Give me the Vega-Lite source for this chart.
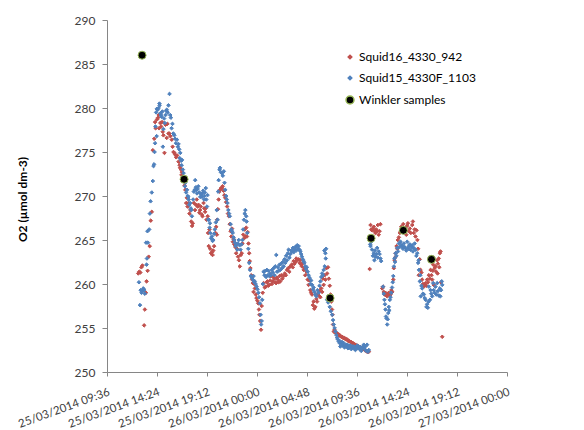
{
"$schema":"https://vega.github.io/schema/vega-lite/v6.json",
"width":400,"height":352,
"autosize":{"type":"none"},
"padding":{"left":107,"top":20,"right":77,"bottom":58},
"background":"white",
"config":{"view":{"stroke":null},"font":"Lato"},
"data":{"format":{"parse":{"t":"date:'%Y-%m-%d %H:%M'"}},"values":[
{"s":"R","t":"2014-03-25 12:36","v":261.2},{"s":"R","t":"2014-03-25 12:42","v":261.4},{"s":"R","t":"2014-03-25 12:48","v":261.3},{"s":"R","t":"2014-03-25 12:54","v":261.9},{"s":"R","t":"2014-03-25 13:00","v":262.1},{"s":"R","t":"2014-03-25 13:10","v":255.3},{"s":"R","t":"2014-03-25 13:14","v":257.1},{"s":"R","t":"2014-03-25 13:20","v":259.0},{"s":"R","t":"2014-03-25 13:24","v":260.3},{"s":"R","t":"2014-03-25 13:30","v":261.5},{"s":"R","t":"2014-03-25 13:36","v":263.1},{"s":"R","t":"2014-03-25 13:42","v":264.3},{"s":"R","t":"2014-03-25 13:48","v":267.2},{"s":"R","t":"2014-03-25 13:54","v":268.2},{"s":"R","t":"2014-03-25 14:00","v":275.2},{"s":"R","t":"2014-03-25 14:08","v":276.5},{"s":"R","t":"2014-03-25 14:13","v":278.4},{"s":"R","t":"2014-03-25 14:16","v":277.7},{"s":"R","t":"2014-03-25 14:24","v":278.7},{"s":"R","t":"2014-03-25 14:30","v":278.9},{"s":"R","t":"2014-03-25 14:34","v":279.2},{"s":"R","t":"2014-03-25 14:36","v":277.7},{"s":"R","t":"2014-03-25 14:43","v":278.3},{"s":"R","t":"2014-03-25 14:48","v":277.9},{"s":"R","t":"2014-03-25 14:53","v":278.4},{"s":"R","t":"2014-03-25 14:57","v":277.3},{"s":"R","t":"2014-03-25 15:01","v":276.9},{"s":"R","t":"2014-03-25 15:07","v":274.9},{"s":"R","t":"2014-03-25 15:13","v":278.1},{"s":"R","t":"2014-03-25 15:20","v":276.6},{"s":"R","t":"2014-03-25 15:24","v":278.2},{"s":"R","t":"2014-03-25 15:30","v":277.1},{"s":"R","t":"2014-03-25 15:35","v":277.1},{"s":"R","t":"2014-03-25 15:41","v":276.8},{"s":"R","t":"2014-03-25 15:49","v":276.4},{"s":"R","t":"2014-03-25 15:54","v":275.6},{"s":"R","t":"2014-03-25 15:59","v":275.0},{"s":"R","t":"2014-03-25 16:04","v":274.9},{"s":"R","t":"2014-03-25 16:09","v":274.7},{"s":"R","t":"2014-03-25 16:14","v":274.4},{"s":"R","t":"2014-03-25 16:20","v":274.6},{"s":"R","t":"2014-03-25 16:28","v":273.9},{"s":"R","t":"2014-03-25 16:34","v":273.5},{"s":"R","t":"2014-03-25 16:37","v":273.2},{"s":"R","t":"2014-03-25 16:42","v":273.0},{"s":"R","t":"2014-03-25 16:45","v":272.4},{"s":"R","t":"2014-03-25 16:48","v":272.7},{"s":"R","t":"2014-03-25 16:55","v":271.8},{"s":"R","t":"2014-03-25 17:03","v":271.2},{"s":"R","t":"2014-03-25 17:07","v":270.7},{"s":"R","t":"2014-03-25 17:12","v":269.2},{"s":"R","t":"2014-03-25 17:16","v":269.8},{"s":"R","t":"2014-03-25 17:20","v":268.8},{"s":"R","t":"2014-03-25 17:25","v":269.2},{"s":"R","t":"2014-03-25 17:31","v":268.0},{"s":"R","t":"2014-03-25 17:36","v":268.4},{"s":"R","t":"2014-03-25 17:41","v":267.1},{"s":"R","t":"2014-03-25 17:46","v":266.6},{"s":"R","t":"2014-03-25 17:50","v":266.9},{"s":"R","t":"2014-03-25 17:57","v":269.2},{"s":"R","t":"2014-03-25 18:03","v":268.4},{"s":"R","t":"2014-03-25 18:08","v":269.0},{"s":"R","t":"2014-03-25 18:13","v":269.6},{"s":"R","t":"2014-03-25 18:18","v":268.8},{"s":"R","t":"2014-03-25 18:23","v":269.0},{"s":"R","t":"2014-03-25 18:28","v":268.1},{"s":"R","t":"2014-03-25 18:32","v":268.4},{"s":"R","t":"2014-03-25 18:36","v":268.8},{"s":"R","t":"2014-03-25 18:42","v":267.9},{"s":"R","t":"2014-03-25 18:46","v":267.7},{"s":"R","t":"2014-03-25 18:52","v":269.2},{"s":"R","t":"2014-03-25 18:56","v":268.6},{"s":"R","t":"2014-03-25 19:01","v":268.2},{"s":"R","t":"2014-03-25 19:05","v":268.6},{"s":"R","t":"2014-03-25 19:09","v":267.3},{"s":"R","t":"2014-03-25 19:16","v":267.7},{"s":"R","t":"2014-03-25 19:18","v":265.8},{"s":"R","t":"2014-03-25 19:22","v":264.3},{"s":"R","t":"2014-03-25 19:26","v":266.2},{"s":"R","t":"2014-03-25 19:30","v":264.0},{"s":"R","t":"2014-03-25 19:35","v":263.5},{"s":"R","t":"2014-03-25 19:40","v":263.6},{"s":"R","t":"2014-03-25 19:44","v":263.3},{"s":"R","t":"2014-03-25 19:48","v":263.8},{"s":"R","t":"2014-03-25 19:53","v":264.3},{"s":"R","t":"2014-03-25 20:01","v":265.8},{"s":"R","t":"2014-03-25 20:05","v":266.5},{"s":"R","t":"2014-03-25 20:09","v":265.6},{"s":"R","t":"2014-03-25 20:10","v":267.3},{"s":"R","t":"2014-03-25 20:15","v":268.5},{"s":"R","t":"2014-03-25 20:19","v":269.6},{"s":"R","t":"2014-03-25 20:23","v":270.5},{"s":"R","t":"2014-03-25 20:27","v":270.7},{"s":"R","t":"2014-03-25 20:33","v":270.9},{"s":"R","t":"2014-03-25 20:38","v":270.9},{"s":"R","t":"2014-03-25 20:42","v":271.1},{"s":"R","t":"2014-03-25 20:47","v":270.6},{"s":"R","t":"2014-03-25 20:52","v":270.1},{"s":"R","t":"2014-03-25 20:57","v":269.8},{"s":"R","t":"2014-03-25 21:02","v":269.3},{"s":"R","t":"2014-03-25 21:08","v":268.8},{"s":"R","t":"2014-03-25 21:13","v":268.0},{"s":"R","t":"2014-03-25 21:18","v":267.7},{"s":"R","t":"2014-03-25 21:23","v":266.8},{"s":"R","t":"2014-03-25 21:28","v":266.0},{"s":"R","t":"2014-03-25 21:32","v":265.4},{"s":"R","t":"2014-03-25 21:36","v":266.3},{"s":"R","t":"2014-03-25 21:41","v":264.8},{"s":"R","t":"2014-03-25 21:45","v":265.1},{"s":"R","t":"2014-03-25 21:49","v":264.5},{"s":"R","t":"2014-03-25 21:55","v":264.2},{"s":"R","t":"2014-03-25 22:00","v":263.5},{"s":"R","t":"2014-03-25 22:05","v":264.0},{"s":"R","t":"2014-03-25 22:11","v":263.1},{"s":"R","t":"2014-03-25 22:16","v":262.7},{"s":"R","t":"2014-03-25 22:21","v":262.0},{"s":"R","t":"2014-03-25 22:27","v":263.3},{"s":"R","t":"2014-03-25 22:32","v":263.5},{"s":"R","t":"2014-03-25 22:36","v":264.6},{"s":"R","t":"2014-03-25 22:41","v":265.6},{"s":"R","t":"2014-03-25 22:46","v":265.2},{"s":"R","t":"2014-03-25 22:49","v":266.2},{"s":"R","t":"2014-03-25 22:54","v":265.4},{"s":"R","t":"2014-03-25 22:58","v":266.4},{"s":"R","t":"2014-03-25 23:02","v":265.4},{"s":"R","t":"2014-03-25 23:06","v":265.9},{"s":"R","t":"2014-03-25 23:11","v":264.6},{"s":"R","t":"2014-03-25 23:15","v":263.5},{"s":"R","t":"2014-03-25 23:18","v":262.6},{"s":"R","t":"2014-03-25 23:22","v":261.8},{"s":"R","t":"2014-03-25 23:27","v":261.0},{"s":"R","t":"2014-03-25 23:32","v":260.5},{"s":"R","t":"2014-03-25 23:36","v":260.1},{"s":"R","t":"2014-03-25 23:40","v":259.1},{"s":"R","t":"2014-03-25 23:44","v":260.0},{"s":"R","t":"2014-03-25 23:48","v":259.5},{"s":"R","t":"2014-03-25 23:53","v":258.8},{"s":"R","t":"2014-03-25 23:57","v":258.4},
{"s":"R","t":"2014-03-26 00:02","v":258.1},{"s":"R","t":"2014-03-26 00:07","v":257.8},{"s":"R","t":"2014-03-26 00:11","v":257.1},{"s":"R","t":"2014-03-26 00:14","v":256.5},{"s":"R","t":"2014-03-26 00:18","v":255.8},{"s":"R","t":"2014-03-26 00:23","v":254.8},{"s":"R","t":"2014-03-26 00:27","v":257.5},{"s":"R","t":"2014-03-26 00:33","v":259.0},{"s":"R","t":"2014-03-26 00:38","v":260.1},{"s":"R","t":"2014-03-26 00:45","v":259.6},{"s":"R","t":"2014-03-26 00:50","v":259.7},{"s":"R","t":"2014-03-26 00:57","v":260.2},{"s":"R","t":"2014-03-26 01:00","v":260.3},{"s":"R","t":"2014-03-26 01:05","v":259.8},{"s":"R","t":"2014-03-26 01:10","v":259.9},{"s":"R","t":"2014-03-26 01:16","v":260.4},{"s":"R","t":"2014-03-26 01:20","v":260.9},{"s":"R","t":"2014-03-26 01:26","v":260.0},{"s":"R","t":"2014-03-26 01:30","v":260.3},{"s":"R","t":"2014-03-26 01:35","v":260.8},{"s":"R","t":"2014-03-26 01:40","v":260.6},{"s":"R","t":"2014-03-26 01:45","v":260.2},{"s":"R","t":"2014-03-26 01:50","v":260.1},{"s":"R","t":"2014-03-26 01:55","v":260.7},{"s":"R","t":"2014-03-26 02:00","v":260.5},{"s":"R","t":"2014-03-26 02:05","v":260.2},{"s":"R","t":"2014-03-26 02:10","v":260.9},{"s":"R","t":"2014-03-26 02:14","v":260.3},{"s":"R","t":"2014-03-26 02:20","v":261.0},{"s":"R","t":"2014-03-26 02:26","v":260.6},{"s":"R","t":"2014-03-26 02:33","v":260.9},{"s":"R","t":"2014-03-26 02:40","v":261.2},{"s":"R","t":"2014-03-26 02:46","v":261.0},{"s":"R","t":"2014-03-26 02:53","v":261.6},{"s":"R","t":"2014-03-26 03:00","v":261.8},{"s":"R","t":"2014-03-26 03:06","v":261.4},{"s":"R","t":"2014-03-26 03:12","v":262.0},{"s":"R","t":"2014-03-26 03:20","v":262.2},{"s":"R","t":"2014-03-26 03:26","v":261.9},{"s":"R","t":"2014-03-26 03:31","v":262.6},{"s":"R","t":"2014-03-26 03:36","v":262.3},{"s":"R","t":"2014-03-26 03:40","v":262.5},{"s":"R","t":"2014-03-26 03:46","v":262.9},{"s":"R","t":"2014-03-26 03:51","v":262.7},{"s":"R","t":"2014-03-26 04:00","v":262.8},{"s":"R","t":"2014-03-26 04:05","v":262.4},{"s":"R","t":"2014-03-26 04:10","v":262.7},{"s":"R","t":"2014-03-26 04:15","v":262.2},{"s":"R","t":"2014-03-26 04:19","v":262.0},{"s":"R","t":"2014-03-26 04:25","v":262.4},{"s":"R","t":"2014-03-26 04:29","v":261.6},{"s":"R","t":"2014-03-26 04:33","v":261.8},{"s":"R","t":"2014-03-26 04:38","v":261.0},{"s":"R","t":"2014-03-26 04:45","v":261.4},{"s":"R","t":"2014-03-26 04:52","v":260.5},{"s":"R","t":"2014-03-26 04:57","v":259.9},{"s":"R","t":"2014-03-26 05:02","v":260.4},{"s":"R","t":"2014-03-26 05:07","v":259.3},{"s":"R","t":"2014-03-26 05:12","v":259.0},{"s":"R","t":"2014-03-26 05:17","v":258.8},{"s":"R","t":"2014-03-26 05:22","v":257.6},{"s":"R","t":"2014-03-26 05:26","v":258.0},{"s":"R","t":"2014-03-26 05:30","v":257.2},{"s":"R","t":"2014-03-26 05:36","v":257.4},{"s":"R","t":"2014-03-26 05:42","v":258.3},{"s":"R","t":"2014-03-26 05:46","v":258.0},{"s":"R","t":"2014-03-26 05:50","v":258.9},{"s":"R","t":"2014-03-26 05:55","v":258.7},{"s":"R","t":"2014-03-26 06:00","v":259.2},{"s":"R","t":"2014-03-26 06:05","v":258.5},{"s":"R","t":"2014-03-26 06:10","v":259.5},{"s":"R","t":"2014-03-26 06:15","v":259.1},{"s":"R","t":"2014-03-26 06:20","v":260.6},{"s":"R","t":"2014-03-26 06:24","v":259.9},{"s":"R","t":"2014-03-26 06:30","v":261.0},{"s":"R","t":"2014-03-26 06:34","v":260.5},{"s":"R","t":"2014-03-26 06:40","v":261.8},{"s":"R","t":"2014-03-26 06:44","v":261.2},{"s":"R","t":"2014-03-26 06:49","v":261.9},{"s":"R","t":"2014-03-26 06:54","v":260.6},{"s":"R","t":"2014-03-26 06:59","v":259.8},{"s":"R","t":"2014-03-26 07:04","v":258.8},{"s":"R","t":"2014-03-26 07:08","v":258.0},{"s":"R","t":"2014-03-26 07:12","v":257.1},{"s":"R","t":"2014-03-26 07:15","v":256.5},{"s":"R","t":"2014-03-26 07:18","v":255.4},{"s":"R","t":"2014-03-26 07:22","v":254.6},{"s":"R","t":"2014-03-26 07:27","v":254.8},{"s":"R","t":"2014-03-26 07:32","v":254.5},{"s":"R","t":"2014-03-26 07:37","v":254.4},{"s":"R","t":"2014-03-26 07:41","v":254.4},{"s":"R","t":"2014-03-26 07:46","v":254.3},{"s":"R","t":"2014-03-26 07:50","v":254.2},{"s":"R","t":"2014-03-26 07:55","v":254.2},{"s":"R","t":"2014-03-26 08:00","v":254.1},{"s":"R","t":"2014-03-26 08:05","v":254.0},{"s":"R","t":"2014-03-26 08:10","v":254.0},{"s":"R","t":"2014-03-26 08:14","v":253.9},{"s":"R","t":"2014-03-26 08:19","v":253.9},{"s":"R","t":"2014-03-26 08:24","v":253.8},{"s":"R","t":"2014-03-26 08:29","v":253.8},{"s":"R","t":"2014-03-26 08:34","v":253.7},{"s":"R","t":"2014-03-26 08:39","v":253.7},{"s":"R","t":"2014-03-26 08:44","v":253.6},{"s":"R","t":"2014-03-26 08:48","v":253.5},{"s":"R","t":"2014-03-26 08:53","v":253.5},{"s":"R","t":"2014-03-26 08:58","v":253.4},{"s":"R","t":"2014-03-26 09:03","v":253.4},{"s":"R","t":"2014-03-26 09:07","v":253.3},{"s":"R","t":"2014-03-26 09:12","v":253.3},{"s":"R","t":"2014-03-26 09:17","v":253.2},{"s":"R","t":"2014-03-26 09:22","v":253.1},{"s":"R","t":"2014-03-26 09:27","v":253.1},{"s":"R","t":"2014-03-26 09:32","v":253.0},{"s":"R","t":"2014-03-26 09:37","v":253.0},{"s":"R","t":"2014-03-26 09:41","v":252.9},{"s":"R","t":"2014-03-26 09:46","v":252.9},{"s":"R","t":"2014-03-26 09:51","v":252.8},{"s":"R","t":"2014-03-26 09:56","v":252.8},{"s":"R","t":"2014-03-26 10:00","v":252.7},{"s":"R","t":"2014-03-26 10:05","v":252.7},{"s":"R","t":"2014-03-26 10:10","v":252.6},{"s":"R","t":"2014-03-26 10:15","v":252.6},{"s":"R","t":"2014-03-26 10:20","v":252.5},{"s":"R","t":"2014-03-26 10:24","v":252.5},{"s":"R","t":"2014-03-26 10:29","v":252.4},{"s":"R","t":"2014-03-26 10:34","v":252.3},{"s":"R","t":"2014-03-26 10:39","v":252.3},{"s":"R","t":"2014-03-26 10:44","v":252.3},{"s":"R","t":"2014-03-26 10:49","v":261.7},{"s":"R","t":"2014-03-26 10:54","v":266.7},{"s":"R","t":"2014-03-26 10:58","v":266.2},{"s":"R","t":"2014-03-26 11:03","v":266.1},{"s":"R","t":"2014-03-26 11:08","v":266.3},{"s":"R","t":"2014-03-26 11:13","v":266.5},{"s":"R","t":"2014-03-26 11:18","v":266.0},{"s":"R","t":"2014-03-26 11:22","v":265.8},{"s":"R","t":"2014-03-26 11:27","v":266.2},{"s":"R","t":"2014-03-26 11:32","v":266.0},{"s":"R","t":"2014-03-26 11:36","v":266.7},{"s":"R","t":"2014-03-26 11:41","v":265.6},{"s":"R","t":"2014-03-26 11:46","v":266.0},{"s":"R","t":"2014-03-26 11:51","v":266.8},{"s":"R","t":"2014-03-26 12:01","v":259.5},{"s":"R","t":"2014-03-26 12:06","v":259.7},{"s":"R","t":"2014-03-26 12:10","v":259.1},{"s":"R","t":"2014-03-26 12:15","v":258.8},{"s":"R","t":"2014-03-26 12:20","v":259.0},{"s":"R","t":"2014-03-26 12:25","v":258.7},{"s":"R","t":"2014-03-26 12:30","v":258.6},{"s":"R","t":"2014-03-26 12:35","v":258.9},{"s":"R","t":"2014-03-26 12:39","v":259.0},{"s":"R","t":"2014-03-26 12:44","v":258.7},{"s":"R","t":"2014-03-26 12:49","v":258.8},{"s":"R","t":"2014-03-26 12:54","v":259.3},{"s":"R","t":"2014-03-26 12:59","v":259.1},{"s":"R","t":"2014-03-26 13:05","v":260.5},{"s":"R","t":"2014-03-26 13:08","v":261.8},{"s":"R","t":"2014-03-26 13:12","v":262.7},{"s":"R","t":"2014-03-26 13:15","v":263.0},{"s":"R","t":"2014-03-26 13:18","v":263.5},{"s":"R","t":"2014-03-26 13:24","v":264.3},{"s":"R","t":"2014-03-26 13:28","v":264.0},{"s":"R","t":"2014-03-26 13:31","v":265.0},{"s":"R","t":"2014-03-26 13:37","v":265.3},{"s":"R","t":"2014-03-26 13:43","v":265.8},{"s":"R","t":"2014-03-26 13:47","v":266.0},{"s":"R","t":"2014-03-26 13:51","v":266.5},{"s":"R","t":"2014-03-26 13:56","v":266.2},{"s":"R","t":"2014-03-26 14:02","v":266.8},{"s":"R","t":"2014-03-26 14:08","v":266.3},{"s":"R","t":"2014-03-26 14:15","v":266.0},{"s":"R","t":"2014-03-26 14:20","v":265.6},{"s":"R","t":"2014-03-26 14:24","v":266.6},{"s":"R","t":"2014-03-26 14:29","v":266.9},{"s":"R","t":"2014-03-26 14:34","v":266.0},{"s":"R","t":"2014-03-26 14:40","v":266.3},{"s":"R","t":"2014-03-26 14:46","v":265.8},{"s":"R","t":"2014-03-26 14:54","v":266.7},{"s":"R","t":"2014-03-26 14:58","v":267.1},{"s":"R","t":"2014-03-26 15:03","v":265.8},{"s":"R","t":"2014-03-26 15:08","v":266.2},{"s":"R","t":"2014-03-26 15:13","v":265.4},{"s":"R","t":"2014-03-26 15:19","v":266.1},{"s":"R","t":"2014-03-26 15:24","v":265.0},{"s":"R","t":"2014-03-26 15:28","v":264.0},{"s":"R","t":"2014-03-26 15:32","v":261.0},{"s":"R","t":"2014-03-26 15:37","v":262.8},{"s":"R","t":"2014-03-26 15:42","v":261.6},{"s":"R","t":"2014-03-26 15:47","v":261.3},{"s":"R","t":"2014-03-26 15:51","v":260.5},{"s":"R","t":"2014-03-26 15:56","v":260.0},{"s":"R","t":"2014-03-26 16:01","v":259.7},{"s":"R","t":"2014-03-26 16:06","v":259.9},{"s":"R","t":"2014-03-26 16:11","v":260.1},{"s":"R","t":"2014-03-26 16:16","v":259.8},{"s":"R","t":"2014-03-26 16:20","v":260.5},{"s":"R","t":"2014-03-26 16:25","v":260.2},{"s":"R","t":"2014-03-26 16:30","v":261.0},{"s":"R","t":"2014-03-26 16:35","v":260.6},{"s":"R","t":"2014-03-26 16:40","v":261.6},{"s":"R","t":"2014-03-26 16:45","v":261.0},{"s":"R","t":"2014-03-26 16:49","v":260.5},{"s":"R","t":"2014-03-26 16:53","v":261.5},{"s":"R","t":"2014-03-26 16:55","v":262.2},{"s":"R","t":"2014-03-26 16:58","v":259.9},{"s":"R","t":"2014-03-26 17:03","v":261.8},{"s":"R","t":"2014-03-26 17:08","v":262.0},{"s":"R","t":"2014-03-26 17:12","v":261.4},{"s":"R","t":"2014-03-26 17:18","v":262.7},{"s":"R","t":"2014-03-26 17:20","v":261.2},{"s":"R","t":"2014-03-26 17:22","v":262.3},{"s":"R","t":"2014-03-26 17:27","v":262.9},{"s":"R","t":"2014-03-26 17:30","v":261.9},{"s":"R","t":"2014-03-26 17:33","v":263.5},{"s":"R","t":"2014-03-26 17:37","v":263.7},{"s":"R","t":"2014-03-26 17:40","v":260.2},{"s":"R","t":"2014-03-26 17:47","v":254.0},
{"s":"B","t":"2014-03-25 12:40","v":260.2},{"s":"B","t":"2014-03-25 12:46","v":257.6},{"s":"B","t":"2014-03-25 12:50","v":259.3},{"s":"B","t":"2014-03-25 12:55","v":259.0},{"s":"B","t":"2014-03-25 13:00","v":259.2},{"s":"B","t":"2014-03-25 13:05","v":259.5},{"s":"B","t":"2014-03-25 13:07","v":259.4},{"s":"B","t":"2014-03-25 13:10","v":259.3},{"s":"B","t":"2014-03-25 13:14","v":258.9},{"s":"B","t":"2014-03-25 13:21","v":264.7},{"s":"B","t":"2014-03-25 13:24","v":262.2},{"s":"B","t":"2014-03-25 13:26","v":262.9},{"s":"B","t":"2014-03-25 13:29","v":266.0},{"s":"B","t":"2014-03-25 13:32","v":264.7},{"s":"B","t":"2014-03-25 13:39","v":266.2},{"s":"B","t":"2014-03-25 13:43","v":268.0},{"s":"B","t":"2014-03-25 13:47","v":269.4},{"s":"B","t":"2014-03-25 13:54","v":270.4},{"s":"B","t":"2014-03-25 14:00","v":271.7},{"s":"B","t":"2014-03-25 14:04","v":273.4},{"s":"B","t":"2014-03-25 14:07","v":273.6},{"s":"B","t":"2014-03-25 14:10","v":275.0},{"s":"B","t":"2014-03-25 14:13","v":276.0},{"s":"B","t":"2014-03-25 14:15","v":277.9},{"s":"B","t":"2014-03-25 14:19","v":279.5},{"s":"B","t":"2014-03-25 14:22","v":276.8},{"s":"B","t":"2014-03-25 14:23","v":279.9},{"s":"B","t":"2014-03-25 14:28","v":279.8},{"s":"B","t":"2014-03-25 14:33","v":280.0},{"s":"B","t":"2014-03-25 14:38","v":280.5},{"s":"B","t":"2014-03-25 14:39","v":280.3},{"s":"B","t":"2014-03-25 14:44","v":279.4},{"s":"B","t":"2014-03-25 14:47","v":279.2},{"s":"B","t":"2014-03-25 14:50","v":279.0},{"s":"B","t":"2014-03-25 14:55","v":279.6},{"s":"B","t":"2014-03-25 14:58","v":275.6},{"s":"B","t":"2014-03-25 15:01","v":277.6},{"s":"B","t":"2014-03-25 15:05","v":278.8},{"s":"B","t":"2014-03-25 15:09","v":278.3},{"s":"B","t":"2014-03-25 15:13","v":279.2},{"s":"B","t":"2014-03-25 15:17","v":279.7},{"s":"B","t":"2014-03-25 15:20","v":279.8},{"s":"B","t":"2014-03-25 15:25","v":279.5},{"s":"B","t":"2014-03-25 15:30","v":280.3},{"s":"B","t":"2014-03-25 15:36","v":281.6},{"s":"B","t":"2014-03-25 15:40","v":279.2},{"s":"B","t":"2014-03-25 15:44","v":278.9},{"s":"B","t":"2014-03-25 15:48","v":277.7},{"s":"B","t":"2014-03-25 15:53","v":278.2},{"s":"B","t":"2014-03-25 15:58","v":277.1},{"s":"B","t":"2014-03-25 16:04","v":276.9},{"s":"B","t":"2014-03-25 16:08","v":276.5},{"s":"B","t":"2014-03-25 16:13","v":276.0},{"s":"B","t":"2014-03-25 16:19","v":276.4},{"s":"B","t":"2014-03-25 16:24","v":275.6},{"s":"B","t":"2014-03-25 16:28","v":275.9},{"s":"B","t":"2014-03-25 16:32","v":275.3},{"s":"B","t":"2014-03-25 16:35","v":274.3},{"s":"B","t":"2014-03-25 16:38","v":274.9},{"s":"B","t":"2014-03-25 16:43","v":274.0},{"s":"B","t":"2014-03-25 16:46","v":273.5},{"s":"B","t":"2014-03-25 16:48","v":274.1},{"s":"B","t":"2014-03-25 16:53","v":273.0},{"s":"B","t":"2014-03-25 16:57","v":272.6},{"s":"B","t":"2014-03-25 17:02","v":272.0},{"s":"B","t":"2014-03-25 17:05","v":271.1},{"s":"B","t":"2014-03-25 17:07","v":271.5},{"s":"B","t":"2014-03-25 17:12","v":270.4},{"s":"B","t":"2014-03-25 17:17","v":270.7},{"s":"B","t":"2014-03-25 17:21","v":270.0},{"s":"B","t":"2014-03-25 17:24","v":269.9},{"s":"B","t":"2014-03-25 17:26","v":269.6},{"s":"B","t":"2014-03-25 17:30","v":269.0},{"s":"B","t":"2014-03-25 17:35","v":269.2},{"s":"B","t":"2014-03-25 17:39","v":268.6},{"s":"B","t":"2014-03-25 17:42","v":268.4},{"s":"B","t":"2014-03-25 17:45","v":267.7},{"s":"B","t":"2014-03-25 17:52","v":269.6},{"s":"B","t":"2014-03-25 17:56","v":270.5},{"s":"B","t":"2014-03-25 18:01","v":270.7},{"s":"B","t":"2014-03-25 18:04","v":271.8},{"s":"B","t":"2014-03-25 18:08","v":271.0},{"s":"B","t":"2014-03-25 18:12","v":270.7},{"s":"B","t":"2014-03-25 18:14","v":270.3},{"s":"B","t":"2014-03-25 18:18","v":270.8},{"s":"B","t":"2014-03-25 18:22","v":271.1},{"s":"B","t":"2014-03-25 18:28","v":270.4},{"s":"B","t":"2014-03-25 18:33","v":269.9},{"s":"B","t":"2014-03-25 18:38","v":270.2},{"s":"B","t":"2014-03-25 18:43","v":269.9},{"s":"B","t":"2014-03-25 18:46","v":270.3},{"s":"B","t":"2014-03-25 18:50","v":270.6},{"s":"B","t":"2014-03-25 18:55","v":269.6},{"s":"B","t":"2014-03-25 18:57","v":270.0},{"s":"B","t":"2014-03-25 19:00","v":270.4},{"s":"B","t":"2014-03-25 19:05","v":270.9},{"s":"B","t":"2014-03-25 19:08","v":269.6},{"s":"B","t":"2014-03-25 19:12","v":268.8},{"s":"B","t":"2014-03-25 19:15","v":270.1},{"s":"B","t":"2014-03-25 19:19","v":267.3},{"s":"B","t":"2014-03-25 19:23","v":267.3},{"s":"B","t":"2014-03-25 19:27","v":266.4},{"s":"B","t":"2014-03-25 19:29","v":266.9},{"s":"B","t":"2014-03-25 19:31","v":265.8},{"s":"B","t":"2014-03-25 19:36","v":265.2},{"s":"B","t":"2014-03-25 19:40","v":265.4},{"s":"B","t":"2014-03-25 19:44","v":264.9},{"s":"B","t":"2014-03-25 19:48","v":265.0},{"s":"B","t":"2014-03-25 19:53","v":265.7},{"s":"B","t":"2014-03-25 19:57","v":266.2},{"s":"B","t":"2014-03-25 20:03","v":267.0},{"s":"B","t":"2014-03-25 20:08","v":268.4},{"s":"B","t":"2014-03-25 20:13","v":267.3},{"s":"B","t":"2014-03-25 20:16","v":270.5},{"s":"B","t":"2014-03-25 20:19","v":271.8},{"s":"B","t":"2014-03-25 20:24","v":273.0},{"s":"B","t":"2014-03-25 20:27","v":273.2},{"s":"B","t":"2014-03-25 20:32","v":272.7},{"s":"B","t":"2014-03-25 20:38","v":272.6},{"s":"B","t":"2014-03-25 20:43","v":272.3},{"s":"B","t":"2014-03-25 20:49","v":272.8},{"s":"B","t":"2014-03-25 20:53","v":271.5},{"s":"B","t":"2014-03-25 20:57","v":270.7},{"s":"B","t":"2014-03-25 21:02","v":270.0},{"s":"B","t":"2014-03-25 21:06","v":269.6},{"s":"B","t":"2014-03-25 21:10","v":269.2},{"s":"B","t":"2014-03-25 21:15","v":268.4},{"s":"B","t":"2014-03-25 21:19","v":268.0},{"s":"B","t":"2014-03-25 21:23","v":267.7},{"s":"B","t":"2014-03-25 21:28","v":266.8},{"s":"B","t":"2014-03-25 21:32","v":266.2},{"s":"B","t":"2014-03-25 21:36","v":266.0},{"s":"B","t":"2014-03-25 21:40","v":265.8},{"s":"B","t":"2014-03-25 21:45","v":265.3},{"s":"B","t":"2014-03-25 21:49","v":265.0},{"s":"B","t":"2014-03-25 21:53","v":264.7},{"s":"B","t":"2014-03-25 21:57","v":264.3},{"s":"B","t":"2014-03-25 22:02","v":264.5},{"s":"B","t":"2014-03-25 22:06","v":263.9},{"s":"B","t":"2014-03-25 22:10","v":264.6},{"s":"B","t":"2014-03-25 22:15","v":265.0},{"s":"B","t":"2014-03-25 22:20","v":264.4},{"s":"B","t":"2014-03-25 22:25","v":263.9},{"s":"B","t":"2014-03-25 22:30","v":264.5},{"s":"B","t":"2014-03-25 22:36","v":265.0},{"s":"B","t":"2014-03-25 22:40","v":266.2},{"s":"B","t":"2014-03-25 22:45","v":267.3},{"s":"B","t":"2014-03-25 22:49","v":268.0},{"s":"B","t":"2014-03-25 22:53","v":268.4},{"s":"B","t":"2014-03-25 22:58","v":267.7},{"s":"B","t":"2014-03-25 23:00","v":267.1},{"s":"B","t":"2014-03-25 23:04","v":265.8},{"s":"B","t":"2014-03-25 23:10","v":264.0},{"s":"B","t":"2014-03-25 23:15","v":262.4},{"s":"B","t":"2014-03-25 23:20","v":261.6},{"s":"B","t":"2014-03-25 23:25","v":260.9},{"s":"B","t":"2014-03-25 23:30","v":260.7},{"s":"B","t":"2014-03-25 23:36","v":260.5},{"s":"B","t":"2014-03-25 23:40","v":260.9},{"s":"B","t":"2014-03-25 23:44","v":260.2},{"s":"B","t":"2014-03-25 23:47","v":260.3},{"s":"B","t":"2014-03-25 23:52","v":260.0},{"s":"B","t":"2014-03-25 23:58","v":259.7},
{"s":"B","t":"2014-03-26 00:03","v":259.4},{"s":"B","t":"2014-03-26 00:08","v":259.0},{"s":"B","t":"2014-03-26 00:12","v":258.5},{"s":"B","t":"2014-03-26 00:17","v":257.8},{"s":"B","t":"2014-03-26 00:21","v":256.5},{"s":"B","t":"2014-03-26 00:24","v":255.4},{"s":"B","t":"2014-03-26 00:27","v":255.8},{"s":"B","t":"2014-03-26 00:30","v":258.2},{"s":"B","t":"2014-03-26 00:34","v":260.0},{"s":"B","t":"2014-03-26 00:38","v":261.4},{"s":"B","t":"2014-03-26 00:43","v":261.0},{"s":"B","t":"2014-03-26 00:48","v":261.5},{"s":"B","t":"2014-03-26 00:52","v":260.8},{"s":"B","t":"2014-03-26 00:57","v":261.6},{"s":"B","t":"2014-03-26 01:02","v":261.0},{"s":"B","t":"2014-03-26 01:06","v":261.5},{"s":"B","t":"2014-03-26 01:11","v":260.9},{"s":"B","t":"2014-03-26 01:16","v":261.2},{"s":"B","t":"2014-03-26 01:21","v":261.0},{"s":"B","t":"2014-03-26 01:26","v":261.6},{"s":"B","t":"2014-03-26 01:31","v":261.3},{"s":"B","t":"2014-03-26 01:36","v":261.8},{"s":"B","t":"2014-03-26 01:41","v":261.0},{"s":"B","t":"2014-03-26 01:45","v":262.0},{"s":"B","t":"2014-03-26 01:51","v":263.3},{"s":"B","t":"2014-03-26 01:55","v":261.4},{"s":"B","t":"2014-03-26 02:00","v":261.9},{"s":"B","t":"2014-03-26 02:05","v":261.5},{"s":"B","t":"2014-03-26 02:10","v":262.2},{"s":"B","t":"2014-03-26 02:14","v":261.6},{"s":"B","t":"2014-03-26 02:19","v":262.3},{"s":"B","t":"2014-03-26 02:24","v":261.8},{"s":"B","t":"2014-03-26 02:29","v":262.5},{"s":"B","t":"2014-03-26 02:33","v":262.0},{"s":"B","t":"2014-03-26 02:38","v":262.8},{"s":"B","t":"2014-03-26 02:43","v":262.4},{"s":"B","t":"2014-03-26 02:48","v":263.2},{"s":"B","t":"2014-03-26 02:53","v":262.7},{"s":"B","t":"2014-03-26 02:58","v":263.5},{"s":"B","t":"2014-03-26 03:02","v":263.9},{"s":"B","t":"2014-03-26 03:07","v":263.0},{"s":"B","t":"2014-03-26 03:12","v":263.4},{"s":"B","t":"2014-03-26 03:17","v":263.8},{"s":"B","t":"2014-03-26 03:22","v":263.7},{"s":"B","t":"2014-03-26 03:27","v":264.1},{"s":"B","t":"2014-03-26 03:31","v":263.6},{"s":"B","t":"2014-03-26 03:35","v":263.9},{"s":"B","t":"2014-03-26 03:40","v":264.2},{"s":"B","t":"2014-03-26 03:46","v":263.8},{"s":"B","t":"2014-03-26 03:51","v":264.4},{"s":"B","t":"2014-03-26 03:55","v":264.0},{"s":"B","t":"2014-03-26 04:00","v":264.3},{"s":"B","t":"2014-03-26 04:05","v":263.9},{"s":"B","t":"2014-03-26 04:10","v":263.7},{"s":"B","t":"2014-03-26 04:14","v":263.4},{"s":"B","t":"2014-03-26 04:19","v":263.1},{"s":"B","t":"2014-03-26 04:24","v":262.8},{"s":"B","t":"2014-03-26 04:29","v":262.6},{"s":"B","t":"2014-03-26 04:33","v":262.4},{"s":"B","t":"2014-03-26 04:38","v":262.0},{"s":"B","t":"2014-03-26 04:43","v":261.7},{"s":"B","t":"2014-03-26 04:47","v":261.9},{"s":"B","t":"2014-03-26 04:52","v":261.4},{"s":"B","t":"2014-03-26 04:57","v":261.0},{"s":"B","t":"2014-03-26 05:03","v":260.7},{"s":"B","t":"2014-03-26 05:08","v":260.0},{"s":"B","t":"2014-03-26 05:12","v":260.4},{"s":"B","t":"2014-03-26 05:17","v":259.9},{"s":"B","t":"2014-03-26 05:22","v":259.4},{"s":"B","t":"2014-03-26 05:26","v":259.6},{"s":"B","t":"2014-03-26 05:30","v":259.1},{"s":"B","t":"2014-03-26 05:36","v":258.8},{"s":"B","t":"2014-03-26 05:42","v":258.6},{"s":"B","t":"2014-03-26 05:48","v":259.3},{"s":"B","t":"2014-03-26 05:55","v":259.0},{"s":"B","t":"2014-03-26 06:00","v":259.8},{"s":"B","t":"2014-03-26 06:05","v":260.3},{"s":"B","t":"2014-03-26 06:10","v":260.8},{"s":"B","t":"2014-03-26 06:15","v":261.2},{"s":"B","t":"2014-03-26 06:20","v":261.0},{"s":"B","t":"2014-03-26 06:24","v":261.6},{"s":"B","t":"2014-03-26 06:28","v":263.8},{"s":"B","t":"2014-03-26 06:30","v":262.0},{"s":"B","t":"2014-03-26 06:34","v":263.5},{"s":"B","t":"2014-03-26 06:36","v":262.9},{"s":"B","t":"2014-03-26 06:38","v":264.0},{"s":"B","t":"2014-03-26 06:44","v":258.2},{"s":"B","t":"2014-03-26 06:50","v":257.9},{"s":"B","t":"2014-03-26 06:59","v":257.4},{"s":"B","t":"2014-03-26 07:05","v":256.9},{"s":"B","t":"2014-03-26 07:13","v":256.5},{"s":"B","t":"2014-03-26 07:18","v":255.9},{"s":"B","t":"2014-03-26 07:22","v":255.4},{"s":"B","t":"2014-03-26 07:27","v":255.0},{"s":"B","t":"2014-03-26 07:32","v":254.6},{"s":"B","t":"2014-03-26 07:37","v":254.2},{"s":"B","t":"2014-03-26 07:41","v":253.9},{"s":"B","t":"2014-03-26 07:46","v":253.7},{"s":"B","t":"2014-03-26 07:50","v":253.5},{"s":"B","t":"2014-03-26 07:55","v":253.3},{"s":"B","t":"2014-03-26 07:58","v":253.5},{"s":"B","t":"2014-03-26 08:00","v":252.9},{"s":"B","t":"2014-03-26 08:05","v":253.2},{"s":"B","t":"2014-03-26 08:10","v":253.4},{"s":"B","t":"2014-03-26 08:14","v":253.0},{"s":"B","t":"2014-03-26 08:19","v":253.3},{"s":"B","t":"2014-03-26 08:24","v":252.8},{"s":"B","t":"2014-03-26 08:29","v":253.1},{"s":"B","t":"2014-03-26 08:34","v":252.9},{"s":"B","t":"2014-03-26 08:39","v":253.1},{"s":"B","t":"2014-03-26 08:44","v":252.7},{"s":"B","t":"2014-03-26 08:48","v":253.0},{"s":"B","t":"2014-03-26 08:53","v":252.8},{"s":"B","t":"2014-03-26 08:58","v":253.0},{"s":"B","t":"2014-03-26 09:03","v":252.6},{"s":"B","t":"2014-03-26 09:07","v":252.9},{"s":"B","t":"2014-03-26 09:12","v":252.8},{"s":"B","t":"2014-03-26 09:17","v":252.9},{"s":"B","t":"2014-03-26 09:22","v":252.6},{"s":"B","t":"2014-03-26 09:27","v":252.5},{"s":"B","t":"2014-03-26 09:32","v":252.8},{"s":"B","t":"2014-03-26 09:37","v":253.0},{"s":"B","t":"2014-03-26 09:41","v":252.7},{"s":"B","t":"2014-03-26 09:46","v":252.9},{"s":"B","t":"2014-03-26 09:51","v":252.6},{"s":"B","t":"2014-03-26 09:56","v":252.8},{"s":"B","t":"2014-03-26 10:00","v":252.4},{"s":"B","t":"2014-03-26 10:05","v":252.7},{"s":"B","t":"2014-03-26 10:10","v":252.9},{"s":"B","t":"2014-03-26 10:15","v":253.1},{"s":"B","t":"2014-03-26 10:20","v":252.6},{"s":"B","t":"2014-03-26 10:24","v":252.9},{"s":"B","t":"2014-03-26 10:29","v":252.4},{"s":"B","t":"2014-03-26 10:34","v":253.1},{"s":"B","t":"2014-03-26 10:39","v":252.3},{"s":"B","t":"2014-03-26 10:44","v":252.5},{"s":"B","t":"2014-03-26 10:52","v":264.5},{"s":"B","t":"2014-03-26 10:54","v":264.3},{"s":"B","t":"2014-03-26 10:58","v":264.8},{"s":"B","t":"2014-03-26 11:03","v":263.9},{"s":"B","t":"2014-03-26 11:08","v":263.2},{"s":"B","t":"2014-03-26 11:13","v":263.5},{"s":"B","t":"2014-03-26 11:16","v":262.7},{"s":"B","t":"2014-03-26 11:19","v":263.8},{"s":"B","t":"2014-03-26 11:22","v":263.1},{"s":"B","t":"2014-03-26 11:27","v":263.4},{"s":"B","t":"2014-03-26 11:32","v":264.1},{"s":"B","t":"2014-03-26 11:36","v":263.0},{"s":"B","t":"2014-03-26 11:41","v":263.7},{"s":"B","t":"2014-03-26 11:46","v":263.4},{"s":"B","t":"2014-03-26 11:51","v":262.9},{"s":"B","t":"2014-03-26 11:55","v":262.6},{"s":"B","t":"2014-03-26 12:06","v":259.7},{"s":"B","t":"2014-03-26 12:10","v":258.9},{"s":"B","t":"2014-03-26 12:14","v":258.2},{"s":"B","t":"2014-03-26 12:17","v":257.7},{"s":"B","t":"2014-03-26 12:20","v":257.1},{"s":"B","t":"2014-03-26 12:23","v":256.3},{"s":"B","t":"2014-03-26 12:26","v":256.1},{"s":"B","t":"2014-03-26 12:30","v":255.4},{"s":"B","t":"2014-03-26 12:33","v":256.0},{"s":"B","t":"2014-03-26 12:36","v":256.7},{"s":"B","t":"2014-03-26 12:39","v":257.4},{"s":"B","t":"2014-03-26 12:42","v":257.0},{"s":"B","t":"2014-03-26 12:45","v":258.2},{"s":"B","t":"2014-03-26 12:49","v":258.5},{"s":"B","t":"2014-03-26 12:53","v":259.0},{"s":"B","t":"2014-03-26 12:58","v":259.6},{"s":"B","t":"2014-03-26 13:02","v":260.2},{"s":"B","t":"2014-03-26 13:05","v":260.9},{"s":"B","t":"2014-03-26 13:09","v":262.0},{"s":"B","t":"2014-03-26 13:12","v":262.9},{"s":"B","t":"2014-03-26 13:15","v":262.5},{"s":"B","t":"2014-03-26 13:18","v":263.5},{"s":"B","t":"2014-03-26 13:23","v":263.2},{"s":"B","t":"2014-03-26 13:28","v":264.1},{"s":"B","t":"2014-03-26 13:32","v":263.7},{"s":"B","t":"2014-03-26 13:37","v":264.6},{"s":"B","t":"2014-03-26 13:42","v":264.2},{"s":"B","t":"2014-03-26 13:47","v":264.8},{"s":"B","t":"2014-03-26 13:52","v":264.4},{"s":"B","t":"2014-03-26 13:56","v":264.3},{"s":"B","t":"2014-03-26 14:01","v":264.0},{"s":"B","t":"2014-03-26 14:06","v":264.6},{"s":"B","t":"2014-03-26 14:10","v":264.2},{"s":"B","t":"2014-03-26 14:15","v":264.1},{"s":"B","t":"2014-03-26 14:20","v":263.8},{"s":"B","t":"2014-03-26 14:25","v":264.8},{"s":"B","t":"2014-03-26 14:30","v":264.0},{"s":"B","t":"2014-03-26 14:35","v":264.3},{"s":"B","t":"2014-03-26 14:40","v":264.5},{"s":"B","t":"2014-03-26 14:44","v":263.9},{"s":"B","t":"2014-03-26 14:49","v":264.2},{"s":"B","t":"2014-03-26 14:54","v":264.4},{"s":"B","t":"2014-03-26 14:58","v":263.7},{"s":"B","t":"2014-03-26 15:03","v":264.1},{"s":"B","t":"2014-03-26 15:08","v":264.6},{"s":"B","t":"2014-03-26 15:13","v":263.9},{"s":"B","t":"2014-03-26 15:18","v":263.2},{"s":"B","t":"2014-03-26 15:23","v":263.5},{"s":"B","t":"2014-03-26 15:28","v":262.4},{"s":"B","t":"2014-03-26 15:31","v":262.7},{"s":"B","t":"2014-03-26 15:33","v":261.6},{"s":"B","t":"2014-03-26 15:38","v":260.3},{"s":"B","t":"2014-03-26 15:41","v":261.0},{"s":"B","t":"2014-03-26 15:43","v":258.6},{"s":"B","t":"2014-03-26 15:47","v":259.8},{"s":"B","t":"2014-03-26 15:51","v":259.5},{"s":"B","t":"2014-03-26 15:56","v":258.9},{"s":"B","t":"2014-03-26 16:01","v":258.8},{"s":"B","t":"2014-03-26 16:06","v":258.4},{"s":"B","t":"2014-03-26 16:11","v":258.2},{"s":"B","t":"2014-03-26 16:16","v":257.4},{"s":"B","t":"2014-03-26 16:20","v":257.7},{"s":"B","t":"2014-03-26 16:24","v":257.3},{"s":"B","t":"2014-03-26 16:28","v":258.0},{"s":"B","t":"2014-03-26 16:30","v":259.7},{"s":"B","t":"2014-03-26 16:36","v":258.2},{"s":"B","t":"2014-03-26 16:40","v":259.3},{"s":"B","t":"2014-03-26 16:44","v":258.9},{"s":"B","t":"2014-03-26 16:49","v":258.6},{"s":"B","t":"2014-03-26 16:55","v":260.1},{"s":"B","t":"2014-03-26 16:58","v":259.3},{"s":"B","t":"2014-03-26 17:03","v":259.0},{"s":"B","t":"2014-03-26 17:08","v":259.7},{"s":"B","t":"2014-03-26 17:13","v":258.8},{"s":"B","t":"2014-03-26 17:18","v":260.1},{"s":"B","t":"2014-03-26 17:22","v":259.2},{"s":"B","t":"2014-03-26 17:27","v":258.7},{"s":"B","t":"2014-03-26 17:33","v":259.5},{"s":"B","t":"2014-03-26 17:36","v":258.6},{"s":"B","t":"2014-03-26 17:40","v":259.3},{"s":"B","t":"2014-03-26 17:44","v":260.3},{"s":"B","t":"2014-03-26 17:47","v":259.9},
{"s":"W","t":"2014-03-25 12:58","v":286.0},{"s":"W","t":"2014-03-25 17:00","v":271.9},{"s":"W","t":"2014-03-26 07:01","v":258.4},{"s":"W","t":"2014-03-26 10:57","v":265.2},{"s":"W","t":"2014-03-26 14:03","v":266.1},{"s":"W","t":"2014-03-26 16:45","v":262.8}
]},
"mark":{"type":"point","filled":true,"opacity":1,"strokeWidth":1},
"encoding":{
"x":{"field":"t","type":"temporal",
 "scale":{"domain":[{"year":2014,"month":3,"date":25,"hours":9,"minutes":36},{"year":2014,"month":3,"date":27,"hours":0,"minutes":0}]},
 "axis":{"title":null,"grid":false,"format":"%d/%m/%Y %H:%M","labelAngle":-20,"labelAlign":"right","labelBaseline":"top","labelFontSize":11.5,"labelColor":"#404040","labelPadding":10,"labelOverlap":false,"labelFlush":false,"domainColor":"#868686","tickColor":"#868686","tickSize":4,
 "values":[{"year":2014,"month":3,"date":25,"hours":9,"minutes":36},{"year":2014,"month":3,"date":25,"hours":14,"minutes":24},{"year":2014,"month":3,"date":25,"hours":19,"minutes":12},{"year":2014,"month":3,"date":26,"hours":0,"minutes":0},{"year":2014,"month":3,"date":26,"hours":4,"minutes":48},{"year":2014,"month":3,"date":26,"hours":9,"minutes":36},{"year":2014,"month":3,"date":26,"hours":14,"minutes":24},{"year":2014,"month":3,"date":26,"hours":19,"minutes":12},{"year":2014,"month":3,"date":27,"hours":0,"minutes":0}]}},
"y":{"field":"v","type":"quantitative","scale":{"domain":[250,290],"nice":false,"zero":false},
 "axis":{"title":"O2 (µmol dm-3)","titleFontWeight":"bold","titleFontSize":12,"titleColor":"#000000","titleX":-85,"titleY":179,"titleAngle":-90,"titleAlign":"center","titleBaseline":"middle","grid":false,"values":[250,255,260,265,270,275,280,285,290],"labelFontSize":12,"labelColor":"#404040","labelPadding":7,"domainColor":"#868686","tickColor":"#868686","tickSize":5}},
"color":{"field":"s","type":"nominal","scale":{"domain":["R","B","W"],"range":["#C0504D","#4F81BD","#000000"]},
 "legend":{"title":null,"orient":"none","legendX":237,"legendY":31,"labelFontSize":12,"labelColor":"#000000","rowPadding":9,"labelOffset":3,"labelExpr":"datum.label == 'R' ? 'Squid16_4330_942' : datum.label == 'B' ? 'Squid15_4330F_1103' : 'Winkler samples'"}},
"shape":{"field":"s","type":"nominal","scale":{"domain":["R","B","W"],"range":["diamond","diamond","circle"]}},
"size":{"field":"s","type":"nominal","scale":{"type":"ordinal","domain":["R","B","W"],"range":[13,13,64]}},
"stroke":{"field":"s","type":"nominal","scale":{"domain":["R","B","W"],"range":["#C0504D","#4F81BD","#9BBB59"]}}
}
}
